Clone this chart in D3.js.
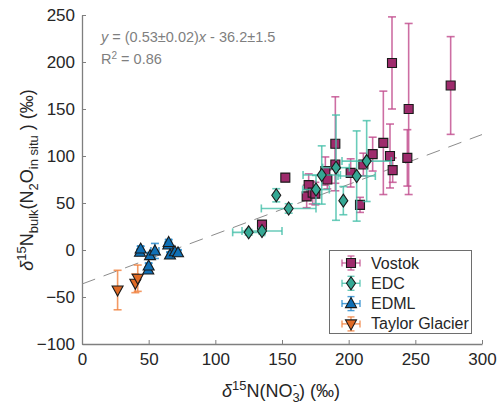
<!DOCTYPE html>
<html><head><meta charset="utf-8">
<script src="https://cdn.jsdelivr.net/npm/d3@7"></script>
<style>body{margin:0;background:#fff}svg{display:block;font-family:"Liberation Sans",Arial,sans-serif}</style>
</head><body><svg id="c" width="500" height="414"></svg>
<script>
// ---- data ----
const xTicks = [0,50,100,150,200,250,300];
const yTicks = [-100,-50,0,50,100,150,200,250];
const seriesNames = ["Vostok","EDC","EDML","Taylor Glacier"];

const vostokX    = [135,152.5,168.5,170,173,175,182.5,184,190,190,201.5,208.5,211,218,226,231,232.5,233,244,245,276.5];
const vostokY    = [27,77,57,69,61,60,84,75,113,91,82,48,91,102,114,100,199,85,98,150,175];
const vostokYErr = [4,4,12,12,12,12,15,10,50,20,15,8,12,18,55,34,49,13,30,91,52];
const vostokXErr = [0,0,0,0,0,0,0,0,0,0,0,0,0,0,0,0,0,0,0,0,0];

const edcX    = [125,135,145.7,155,175.5,179.8,190.5,196,206,213.5];
const edcY    = [18.8,20.2,58.2,44.2,64.3,79.8,87.6,52.5,78.7,94.6];
const edcYErr = [3,3,7,5,15,31,56,15,48,43];
const edcXErr = [12,15,0,20.5,10,14,10,0,14,18.5];

const edmlX    = [43.5,44,51,54.7,49.7,50,64.7,65,66,69.7,72];
const edmlY    = [-2.4,1,-6,-1,-21.3,-17,5.3,8,-5.3,-1.8,-3];
const edmlYErr = [3,3,3,8,3,3,3,3,3,3,3];
const edmlXErr = [2,2,2,3,2,2,2,2,2,3,2];

const taylorX    = [26.7,40,41.8];
const taylorY    = [-42.6,-35.4,-30];
const taylorYErr = [21,10,14];
const taylorXErr = [0,0,0];

const fitSlope = 0.53, fitIntercept = -36.2;

// ---- chart ----
const svg = d3.select("#c");
const x = d3.scaleLinear().domain([0,300]).range([82,482]);
const y = d3.scaleLinear().domain([-100,250]).range([344,15]);
const axisColor = "#7f7f7f", textColor = "#262626";

// axes
const gx = svg.append("g").attr("transform",`translate(0,${y(-100)})`)
  .call(d3.axisBottom(x).tickValues(xTicks).tickSizeInner(-4).tickSizeOuter(0).tickPadding(9));
const gy = svg.append("g").attr("transform",`translate(${x(0)},0)`)
  .call(d3.axisLeft(y).tickValues(yTicks).tickSizeInner(-4).tickSizeOuter(0).tickPadding(7));
[gx,gy].forEach(g=>{
  g.select(".domain").attr("stroke",axisColor).attr("stroke-width",1.3);
  g.selectAll(".tick line").attr("stroke",axisColor).attr("stroke-width",1);
  g.selectAll(".tick text").attr("fill",textColor).attr("font-size",17)
    .attr("font-family","'Liberation Sans',Arial,sans-serif");
});

// fit line
svg.append("line")
  .attr("x1",x(0)).attr("y1",y(fitIntercept))
  .attr("x2",x(300)).attr("y2",y(fitIntercept+fitSlope*300))
  .attr("stroke","#8c8c8c").attr("stroke-width",1).attr("stroke-dasharray","14,9");

const cap = 4;
function drawSeries(xs,ys,yerr,xerr,barColor,fill,shape){
  const g = svg.append("g");
  xs.forEach((xv,i)=>{
    const px=x(xv), py=y(ys[i]);
    const bar = g.append("g").attr("stroke",barColor).attr("stroke-width",1.6).attr("stroke-opacity",0.8);
    if(yerr[i]>0){
      const t=y(ys[i]+yerr[i]), b=y(ys[i]-yerr[i]);
      bar.append("line").attr("x1",px).attr("x2",px).attr("y1",t).attr("y2",b);
      bar.append("line").attr("x1",px-cap).attr("x2",px+cap).attr("y1",t).attr("y2",t);
      bar.append("line").attr("x1",px-cap).attr("x2",px+cap).attr("y1",b).attr("y2",b);
    }
    if(xerr[i]>0){
      const l=x(xv-xerr[i]), r=x(xv+xerr[i]);
      bar.append("line").attr("x1",l).attr("x2",r).attr("y1",py).attr("y2",py);
      bar.append("line").attr("x1",l).attr("x2",l).attr("y1",py-cap).attr("y2",py+cap);
      bar.append("line").attr("x1",r).attr("x2",r).attr("y1",py-cap).attr("y2",py+cap);
    }
  });
  xs.forEach((xv,i)=>drawMarker(g,x(xv),y(ys[i]),fill,shape));
}
function drawMarker(g,px,py,fill,shape){
  let p;
  if(shape==="square") p=`M${px-4.5},${py-4.5}h9v9h-9z`;
  else if(shape==="diamond") p=`M${px},${py-6.5}L${px+4.5},${py}L${px},${py+6.5}L${px-4.5},${py}z`;
  else if(shape==="up") p=`M${px},${py-6}L${px+5.5},${py+4}L${px-5.5},${py+4}z`;
  else p=`M${px},${py+6}L${px+5.5},${py-4}L${px-5.5},${py-4}z`;
  g.append("path").attr("d",p).attr("fill",fill).attr("stroke","#1a1a1a").attr("stroke-width",1.1);
}

const styles = [
  {bar:"#c04a8c",fill:"#9e2b6c",shape:"square"},
  {bar:"#45bfa9",fill:"#35a894",shape:"diamond"},
  {bar:"#1f86cc",fill:"#0f6fb5",shape:"up"},
  {bar:"#f07f3c",fill:"#e06a25",shape:"down"}
];
drawSeries(vostokX,vostokY,vostokYErr,vostokXErr,styles[0].bar,styles[0].fill,styles[0].shape);
drawSeries(edcX,edcY,edcYErr,edcXErr,styles[1].bar,styles[1].fill,styles[1].shape);
drawSeries(edmlX,edmlY,edmlYErr,edmlXErr,styles[2].bar,styles[2].fill,styles[2].shape);
drawSeries(taylorX,taylorY,taylorYErr,taylorXErr,styles[3].bar,styles[3].fill,styles[3].shape);

// annotation
const ann = svg.append("text").attr("x",101).attr("y",42).attr("fill","#7f7f7f").attr("font-size",14.5);
ann.append("tspan").attr("font-style","italic").text("y");
ann.append("tspan").text(" = (0.53\u00b10.02)");
ann.append("tspan").attr("font-style","italic").text("x");
ann.append("tspan").text(" - 36.2\u00b11.5");
const r2 = svg.append("text").attr("x",101).attr("y",64).attr("fill","#7f7f7f").attr("font-size",14.5);
r2.append("tspan").text("R");
r2.append("tspan").attr("baseline-shift","super").attr("font-size",10).text("2");
r2.append("tspan").text(" = 0.86");

// legend
const lg = svg.append("g");
lg.append("rect").attr("x",329.5).attr("y",250.5).attr("width",142).attr("height",83)
  .attr("fill","#fff").attr("stroke","#6e6e6e").attr("stroke-width",1);
seriesNames.forEach((n,i)=>{
  const cy = 263 + i*20.3, cx = 351;
  const s = styles[i];
  const b = lg.append("g").attr("stroke",s.bar).attr("stroke-width",1.4).attr("stroke-opacity",0.8);
  b.append("line").attr("x1",cx-9).attr("x2",cx+9).attr("y1",cy).attr("y2",cy);
  b.append("line").attr("x1",cx).attr("x2",cx).attr("y1",cy-7).attr("y2",cy+7);
  b.append("line").attr("x1",cx-9).attr("x2",cx-9).attr("y1",cy-3.5).attr("y2",cy+3.5);
  b.append("line").attr("x1",cx+9).attr("x2",cx+9).attr("y1",cy-3.5).attr("y2",cy+3.5);
  b.append("line").attr("x1",cx-3.5).attr("x2",cx+3.5).attr("y1",cy-7).attr("y2",cy-7);
  b.append("line").attr("x1",cx-3.5).attr("x2",cx+3.5).attr("y1",cy+7).attr("y2",cy+7);
  drawMarker(lg,cx,cy,s.fill,s.shape);
  lg.append("text").attr("x",371).attr("y",cy+5.5).attr("fill",textColor).attr("font-size",16).text(n);
});

// x label
const xl = svg.append("text").attr("x",281).attr("y",397).attr("text-anchor","middle")
  .attr("fill",textColor).attr("font-size",18);
xl.append("tspan").attr("font-style","italic").text("\u03b4");
xl.append("tspan").attr("baseline-shift","super").attr("font-size",13).text("15");
xl.append("tspan").text("N(NO");
xl.append("tspan").attr("font-size",13).attr("dy",5).text("3");
xl.append("tspan").attr("font-size",13).attr("dx",-7).attr("dy",-13).text("-");
xl.append("tspan").attr("dy",8).attr("dx",2).text(") (\u2030)");

// y label
const yl = svg.append("text").attr("transform","translate(33,180) rotate(-90)")
  .attr("text-anchor","middle").attr("fill",textColor).attr("font-size",18);
yl.append("tspan").attr("font-style","italic").text("\u03b4");
yl.append("tspan").attr("font-size",13).attr("dy",-7).text("15");
yl.append("tspan").attr("dy",7).text("N");
yl.append("tspan").attr("font-size",13).attr("dy",5).text("bulk");
yl.append("tspan").attr("dy",-5).text("(N");
yl.append("tspan").attr("font-size",13).attr("dy",5).text("2");
yl.append("tspan").attr("dy",-5).text("O");
yl.append("tspan").attr("font-size",13).attr("dy",5).text("in situ");
yl.append("tspan").attr("dy",-5).text(" ) (\u2030)");
</script></body></html>
